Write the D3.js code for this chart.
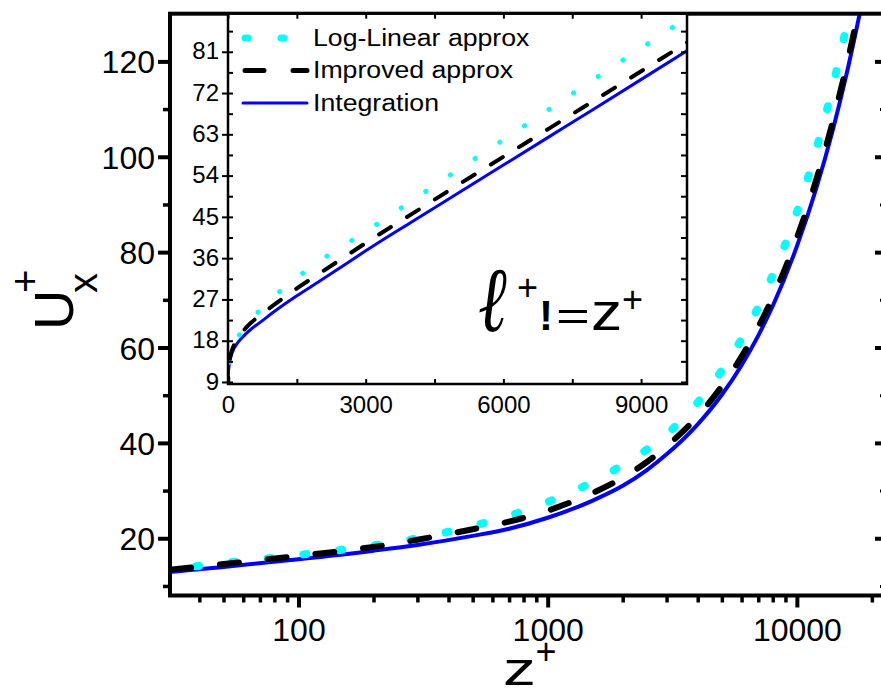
<!DOCTYPE html>
<html>
<head>
<meta charset="utf-8">
<script src="https://cdnjs.cloudflare.com/ajax/libs/d3/7.8.5/d3.min.js"></script>
<style>
body { margin: 0; background: #fff; }
svg { display: block; font-family: "Liberation Sans", Arial, sans-serif; }
.axis path.domain { display: none; }
.axis line { stroke: #000; }
.axis text { fill: #000; }
</style>
</head>
<body>
<svg width="881" height="690"></svg>
<script>
// values
var zPlus        = [3, 5, 10, 20, 30, 50, 100, 200, 300, 500, 700, 1000, 1500, 2000, 2500, 3000, 4000, 5000, 6000, 7000, 8000, 10000, 12000, 14000, 16000, 18000, 20000, 23000];
var uIntegration = [8.2, 9.4, 11.0, 12.2, 12.9, 14.0, 15.6, 17.4, 18.6, 20.5, 22.0, 24.3, 27.8, 31.0, 34.3, 37.6, 43.9, 50.1, 56.3, 62.5, 68.7, 81.2, 93.6, 106.0, 118.4, 130.8, 143.2, 161.8];
var uImproved    = [8.4, 9.7, 11.4, 12.7, 13.4, 14.6, 16.3, 18.2, 19.7, 21.9, 23.5, 25.8, 29.4, 32.7, 36.0, 39.3, 45.6, 51.9, 58.1, 64.3, 70.5, 83.0, 95.4, 107.8, 120.2, 132.6, 145.0, 163.6];
var uLogLinear   = [8.3, 9.5, 11.3, 12.8, 13.5, 14.8, 16.5, 18.5, 20.0, 22.6, 24.7, 27.6, 31.7, 35.4, 38.6, 41.8, 48.5, 55.2, 61.8, 68.5, 75.2, 88.4, 101.8, 115.2, 128.6, 142.0, 155.4, 175.5];

var mainXMajor = [100, 1000, 10000];
var mainXMinor = [40, 50, 60, 70, 80, 90, 200, 300, 400, 500, 600, 700, 800, 900,
                  2000, 3000, 4000, 5000, 6000, 7000, 8000, 9000, 20000];
var mainYMajor = [20, 40, 60, 80, 100, 120];
var mainYMinor = [10, 30, 50, 70, 90, 110];

var insetXMajor = [0, 3000, 6000, 9000];
var insetXMinor = [1500, 4500, 7500];
var insetYMajor = [9, 18, 27, 36, 45, 54, 63, 72, 81];
var insetYMinor = [13.5, 22.5, 31.5, 40.5, 49.5, 58.5, 67.5, 76.5, 85.5];

var legendNames = ["Log-Linear approx", "Improved approx", "Integration"];

var svg = d3.select("svg");

// ---------- main layer ----------
var M = {left: 170, right: 887, top: 13.7, bottom: 595.5};
var x = d3.scaleLog().domain([30.5, 23000]).range([M.left, M.right]);
var y = d3.scaleLinear().domain([8, 130]).range([M.bottom, M.top]);

svg.append("clipPath").attr("id", "mainClip")
  .append("rect").attr("x", M.left).attr("y", M.top)
  .attr("width", M.right - M.left).attr("height", M.bottom - M.top);

var series = [
  {vals: uIntegration, color: "#0000ff", w: 4, dash: null, wi: 3, dashi: null},
  {vals: uLogLinear, color: "#00ffff", w: 8, dash: "3,33", wi: 5, dashi: "0.1,29.5"},
  {vals: uImproved, color: "#000000", w: 6, dash: "19,29", wi: 4, dashi: "14,19"}
];

function pts(vals) {
  return zPlus.map(function(z, i) { return [z, vals[i]]; });
}

var mainLine = d3.line()
  .x(function(d) { return x(d[0]); })
  .y(function(d) { return y(d[1]); })
  .curve(d3.curveMonotoneX);

var gMain = svg.append("g").attr("clip-path", "url(#mainClip)");
series.forEach(function(s) {
  gMain.append("path")
    .attr("d", mainLine(pts(s.vals).filter(function(d) { return d[0] >= 20; })))
    .attr("fill", "none")
    .attr("stroke", s.color)
    .attr("stroke-width", s.w)
    .attr("stroke-linecap", "round")
    .attr("stroke-dasharray", s.dash);
});

// axes
svg.append("g").attr("class", "axis")
  .attr("transform", "translate(0," + M.bottom + ")")
  .call(d3.axisBottom(x).tickValues(mainXMinor).tickSize(7).tickFormat(""))
  .selectAll("line").attr("stroke-width", 3.5);
var xb = svg.append("g").attr("class", "axis")
  .attr("transform", "translate(0," + M.bottom + ")")
  .call(d3.axisBottom(x).tickValues(mainXMajor).tickSize(12).tickPadding(11).tickFormat(d3.format("d")));
xb.selectAll("line").attr("stroke-width", 4);
xb.selectAll("text").attr("font-size", 32);

svg.append("g").attr("class", "axis")
  .attr("transform", "translate(" + M.left + ",0)")
  .call(d3.axisLeft(y).tickValues(mainYMinor).tickSize(7).tickFormat(""))
  .selectAll("line").attr("stroke-width", 3.5);
var yl = svg.append("g").attr("class", "axis")
  .attr("transform", "translate(" + M.left + ",0)")
  .call(d3.axisLeft(y).tickValues(mainYMajor).tickSize(12).tickPadding(3));
yl.selectAll("line").attr("stroke-width", 4);
yl.selectAll("text").attr("font-size", 32).attr("dy", "0.36em");

// right axis ticks point inward
svg.append("g").attr("class", "axis")
  .attr("transform", "translate(" + M.right + ",0)")
  .call(d3.axisLeft(y).tickValues(mainYMinor).tickSize(7).tickFormat(""))
  .selectAll("line").attr("stroke-width", 3);
svg.append("g").attr("class", "axis")
  .attr("transform", "translate(" + M.right + ",0)")
  .call(d3.axisLeft(y).tickValues(mainYMajor).tickSize(12).tickFormat(""))
  .selectAll("line").attr("stroke-width", 4);

svg.append("rect")
  .attr("x", M.left).attr("y", M.top)
  .attr("width", M.right - M.left).attr("height", M.bottom - M.top)
  .attr("fill", "none").attr("stroke", "#000").attr("stroke-width", 4);

// axis titles
var yt = svg.append("g").attr("transform", "translate(73,330) rotate(-90)");
yt.append("text").attr("x", 0).attr("y", 0).attr("font-size", 56).text("U");
yt.append("text").attr("x", 37).attr("y", -34).attr("font-size", 40).text("+");
yt.append("text").attr("x", 37).attr("y", 24).attr("font-size", 40).text("x");

svg.append("text").attr("transform", "translate(503,685) scale(1.4,1)")
  .attr("font-size", 47).text("z");
svg.append("text").attr("x", 546).attr("y", 664).attr("text-anchor", "middle")
  .attr("font-size", 36).text("+");

// ---------- inset layer ----------
var I = {left: 228, right: 687, top: 13.7, bottom: 384};
var xi = d3.scaleLinear().domain([0, 10000]).range([I.left, I.right]);
var yi = d3.scaleLinear().domain([8.56, 89.3]).range([I.bottom, I.top]);

svg.append("rect").attr("x", I.left).attr("y", I.top)
  .attr("width", I.right - I.left).attr("height", I.bottom - I.top)
  .attr("fill", "#fff");

svg.append("clipPath").attr("id", "insetClip")
  .append("rect").attr("x", I.left).attr("y", I.top)
  .attr("width", I.right - I.left).attr("height", I.bottom - I.top);

var insetLine = d3.line()
  .x(function(d) { return xi(d[0]); })
  .y(function(d) { return yi(d[1]); })
  .curve(d3.curveMonotoneX);

var gIn = svg.append("g").attr("clip-path", "url(#insetClip)");
series.forEach(function(s) {
  gIn.append("path")
    .attr("d", insetLine([[0, s.vals[0] - 1.5]].concat(pts(s.vals))))
    .attr("fill", "none")
    .attr("stroke", s.color)
    .attr("stroke-width", s.wi)
    .attr("stroke-linecap", "round")
    .attr("stroke-dasharray", s.dashi);
});

function thin(g, w) { g.selectAll("line").attr("stroke-width", w); return g; }

var insetAll = insetYMajor.concat(insetYMinor);
var insetAllX = insetXMajor.concat(insetXMinor);
// left: majors out, all ticks in
var yil = svg.append("g").attr("class", "axis")
  .attr("transform", "translate(" + I.left + ",0)")
  .call(d3.axisLeft(yi).tickValues(insetYMajor).tickSize(6).tickPadding(3));
thin(yil, 2);
yil.selectAll("text").attr("font-size", 24).attr("dy", "0.3em");
thin(svg.append("g").attr("class", "axis")
  .attr("transform", "translate(" + I.left + ",0)")
  .call(d3.axisRight(yi).tickValues(insetAll).tickSize(5).tickFormat("")), 2);
// right
thin(svg.append("g").attr("class", "axis")
  .attr("transform", "translate(" + I.right + ",0)")
  .call(d3.axisLeft(yi).tickValues(insetAll).tickSize(6).tickFormat("")), 2);
// top
thin(svg.append("g").attr("class", "axis")
  .attr("transform", "translate(0," + I.top + ")")
  .call(d3.axisBottom(xi).tickValues(insetAllX).tickSize(5).tickFormat("")), 2);
// bottom
thin(svg.append("g").attr("class", "axis")
  .attr("transform", "translate(0," + I.bottom + ")")
  .call(d3.axisTop(xi).tickValues(insetAllX).tickSize(5).tickFormat("")), 2);
var xil = svg.append("g").attr("class", "axis")
  .attr("transform", "translate(0," + I.bottom + ")")
  .call(d3.axisBottom(xi).tickValues(insetXMajor).tickSize(0).tickPadding(12).tickFormat(d3.format("d")));
xil.selectAll("text").attr("font-size", 24);

svg.append("rect").attr("x", I.left).attr("y", I.top)
  .attr("width", I.right - I.left).attr("height", I.bottom - I.top)
  .attr("fill", "none").attr("stroke", "#000").attr("stroke-width", 2.5);

// legend
var legendStyle = [series[1], series[2], series[0]];
legendNames.forEach(function(name, i) {
  var ly = 38 + i * 32.5;
  var s = legendStyle[i];
  svg.append("line")
    .attr("x1", s.dash ? 245 : 243).attr("x2", 307)
    .attr("y1", ly).attr("y2", ly)
    .attr("stroke", s.color)
    .attr("stroke-width", s.dash ? s.w - 1 : 3)
    .attr("stroke-linecap", "round")
    .attr("stroke-dasharray", s.dash);
  svg.append("text")
    .attr("transform", "translate(313," + (ly + 7.5) + ") scale(1.16,1)")
    .attr("font-size", 23)
    .text(name);
});

// annotation
svg.append("text").attr("transform", "translate(478,331) scale(0.75,1)")
  .attr("font-family", "DejaVu Serif").attr("font-style", "italic")
  .attr("font-size", 92).text("\u2113");
svg.append("text").attr("x", 527.5).attr("y", 299.5).attr("text-anchor", "middle")
  .attr("font-size", 36).text("+");
svg.append("text").attr("x", 539).attr("y", 330).attr("font-size", 42)
  .attr("font-weight", "bold").text("!");
svg.append("text").attr("transform", "translate(556,330) scale(1.45,1)")
  .attr("font-size", 40).text("=");
svg.append("text").attr("transform", "translate(591,330) scale(1.2,1)")
  .attr("font-size", 52).text("z");
svg.append("text").attr("x", 632.5).attr("y", 311.5).attr("text-anchor", "middle")
  .attr("font-size", 36).text("+");
</script>
</body>
</html>
